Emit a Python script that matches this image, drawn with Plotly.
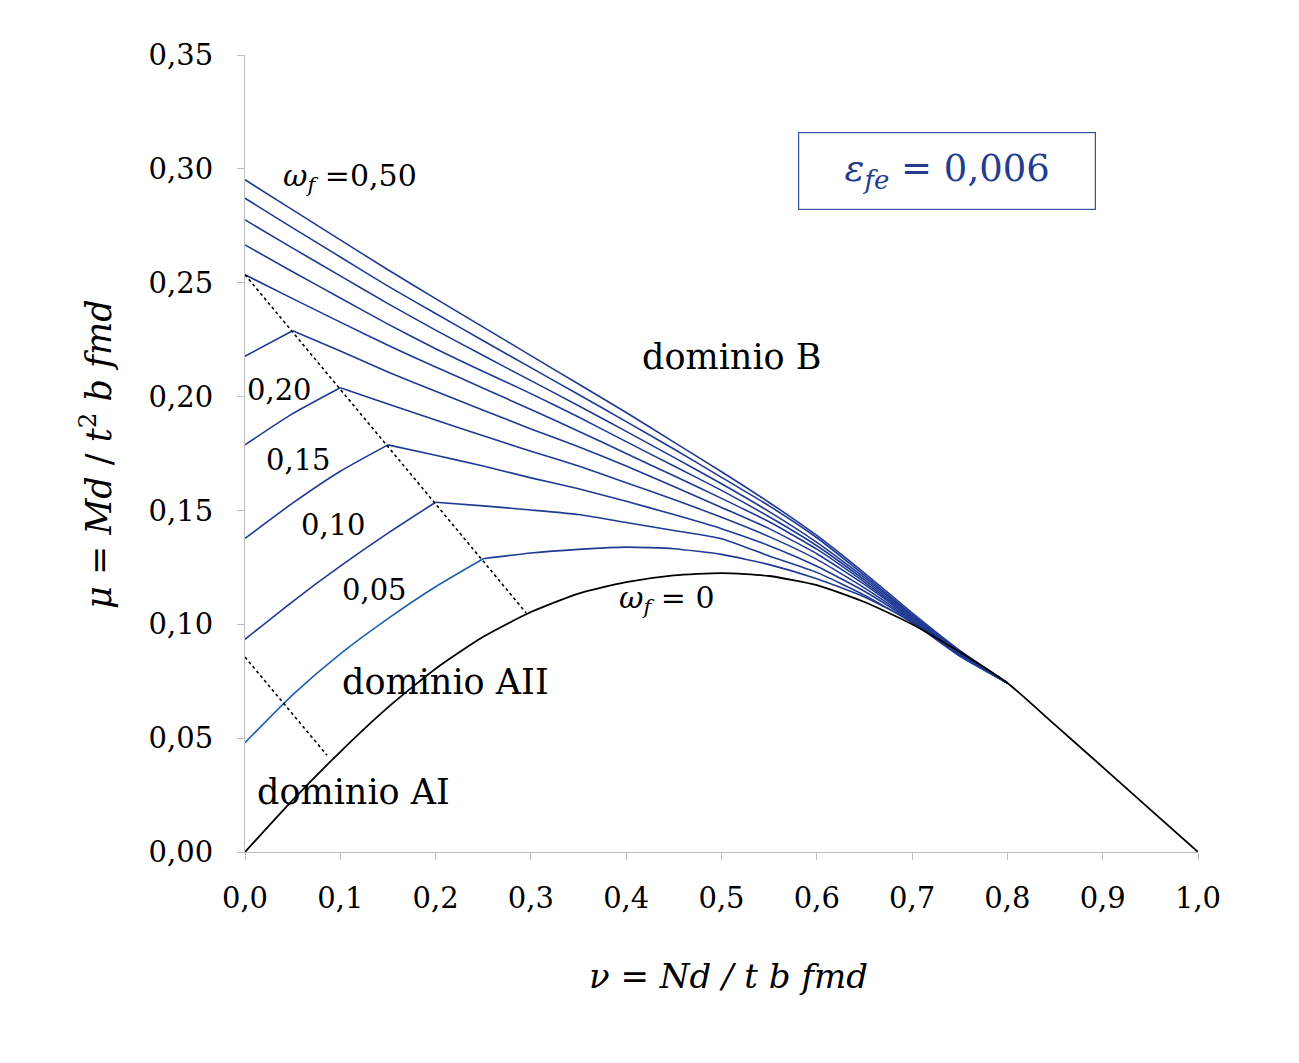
import plotly.graph_objects as go

nu = [0.00, 0.05, 0.10, 0.15, 0.20, 0.25, 0.30, 0.35, 0.40, 0.45,
      0.50, 0.55, 0.60, 0.65, 0.70, 0.75, 0.80]

mu_w050 = [0.2952, 0.2820, 0.2688, 0.2557, 0.2430, 0.2305, 0.2180, 0.2055, 0.1930, 0.1800,
           0.1670, 0.1535, 0.1390, 0.1225, 0.1050, 0.0885, 0.0742]
mu_w045 = [0.2871, 0.2741, 0.2613, 0.2485, 0.2365, 0.2245, 0.2127, 0.2009, 0.1890, 0.1770,
           0.1645, 0.1520, 0.1380, 0.1215, 0.1042, 0.0880, 0.0742]
mu_w040 = [0.2776, 0.2652, 0.2530, 0.2408, 0.2292, 0.2180, 0.2070, 0.1960, 0.1847, 0.1733,
           0.1617, 0.1495, 0.1360, 0.1205, 0.1038, 0.0875, 0.0742]
mu_w035 = [0.2666, 0.2548, 0.2433, 0.2318, 0.2210, 0.2110, 0.2013, 0.1910, 0.1802, 0.1695,
           0.1588, 0.1472, 0.1345, 0.1195, 0.1032, 0.0872, 0.0742]
mu_w030 = [0.2535, 0.2430, 0.2327, 0.2225, 0.2130, 0.2037, 0.1943, 0.1848, 0.1750, 0.1652,
           0.1553, 0.1450, 0.1330, 0.1185, 0.1027, 0.0870, 0.0742]
mu_w025 = [0.2177, 0.2289, 0.2200, 0.2108, 0.2023, 0.1940, 0.1858, 0.1780, 0.1695, 0.1605,
           0.1513, 0.1420, 0.1310, 0.1175, 0.1022, 0.0867, 0.0742]
mu_w020 = [0.1788, 0.1925, 0.2039, 0.1967, 0.1897, 0.1828, 0.1760, 0.1695, 0.1622, 0.1548,
           0.1470, 0.1385, 0.1285, 0.1160, 0.1017, 0.0865, 0.0742]
mu_w015 = [0.1377, 0.1532, 0.1672, 0.1788, 0.1742, 0.1695, 0.1643, 0.1595, 0.1540, 0.1482,
           0.1420, 0.1345, 0.1255, 0.1145, 0.1012, 0.0862, 0.0742]
mu_w010 = [0.0934, 0.1100, 0.1255, 0.1400, 0.1536, 0.1520, 0.1502, 0.1482, 0.1447, 0.1412,
           0.1376, 0.1300, 0.1228, 0.1128, 0.1007, 0.0860, 0.0742]
mu_w005 = [0.0480, 0.0690, 0.0870, 0.1025, 0.1165, 0.1288, 0.1313, 0.1329, 0.1339, 0.1332,
           0.1307, 0.1262, 0.1200, 0.1120, 0.1012, 0.0870, 0.0742]

# index in nu[] of the kink (end of rising branch) for each omega_f
kink_w050, kink_w045, kink_w040, kink_w035, kink_w030 = 0, 0, 0, 0, 0
kink_w025, kink_w020, kink_w015, kink_w010, kink_w005 = 1, 2, 3, 4, 5

# omega_f = 0
nu_w0 = [0.00, 0.05, 0.10, 0.15, 0.20, 0.25, 0.30, 0.35, 0.40, 0.45, 0.50,
         0.55, 0.60, 0.65, 0.70, 0.75, 0.80, 0.85, 0.90, 0.95, 1.00]
mu_w0 = [0.0000, 0.0228, 0.0440, 0.0635, 0.0805, 0.0945, 0.1054, 0.1135, 0.1185, 0.1215, 0.1225,
         0.1212, 0.1172, 0.1098, 0.1000, 0.0878, 0.0742, 0.0558, 0.0373, 0.0186, 0.0000]

# domain boundaries (dotted)
nu_bound_AB = [0.000, 0.295]
mu_bound_AB = [0.2535, 0.1050]
nu_bound_A = [0.000, 0.086]
mu_bound_A = [0.0856, 0.0425]

x_ticks = [0.0, 0.1, 0.2, 0.3, 0.4, 0.5, 0.6, 0.7, 0.8, 0.9, 1.0]
y_ticks = [0.00, 0.05, 0.10, 0.15, 0.20, 0.25, 0.30, 0.35]

BLUE = "#1f3a93"
BLUE_LIGHT = "#1f5fae"
FONT = "DejaVu Serif"

fig = go.Figure()

curves = [(mu_w050, kink_w050), (mu_w045, kink_w045), (mu_w040, kink_w040),
          (mu_w035, kink_w035), (mu_w030, kink_w030), (mu_w025, kink_w025),
          (mu_w020, kink_w020), (mu_w015, kink_w015), (mu_w010, kink_w010),
          (mu_w005, kink_w005)]
for i, (mu, k) in enumerate(curves):
    rise_color = BLUE_LIGHT if i == len(curves) - 1 else BLUE
    if k > 0:
        fig.add_trace(go.Scatter(x=nu[:k + 1], y=mu[:k + 1], mode="lines",
                                 line=dict(color=rise_color, width=1.6,
                                           shape="spline", smoothing=0.6),
                                 hoverinfo="skip"))
    fig.add_trace(go.Scatter(x=nu[k:], y=mu[k:], mode="lines",
                             line=dict(color=BLUE, width=1.6, shape="spline", smoothing=0.5),
                             hoverinfo="skip"))

fig.add_trace(go.Scatter(x=nu_w0, y=mu_w0, mode="lines",
                         line=dict(color="black", width=1.8, shape="spline", smoothing=0.6)))

fig.add_trace(go.Scatter(x=nu_bound_AB, y=mu_bound_AB, mode="lines",
                         line=dict(color="black", width=1.6, dash="dot")))
fig.add_trace(go.Scatter(x=nu_bound_A, y=mu_bound_A, mode="lines",
                         line=dict(color="black", width=1.6, dash="dot")))

def ann(text, x, y, size, xanchor="left", color="black"):
    fig.add_annotation(x=x, y=y, xref="x", yref="y", text=text, showarrow=False,
                       xanchor=xanchor, yanchor="middle",
                       font=dict(family=FONT, size=size, color=color))

ann("<i>ω<sub>f</sub></i> =0,50", 0.038, 0.2960, 30)
ann("0,20", 0.000, 0.2030, 29)
ann("0,15", 0.020, 0.1720, 29)
ann("0,10", 0.057, 0.1435, 29)
ann("0,05", 0.100, 0.1150, 29)
ann("<i>ω<sub>f</sub></i> = 0", 0.390, 0.1110, 30)
ann("dominio B", 0.414, 0.2172, 35)
ann("dominio AII", 0.100, 0.0745, 35)
ann("dominio AI", 0.010, 0.0265, 35)

fig.add_annotation(x=0.7366, y=0.2992, xref="x", yref="y",
                   text="<i>ε<sub>fe</sub></i> = 0,006", showarrow=False,
                   xanchor="center", yanchor="middle",
                   width=290, height=70, borderpad=3,
                   bordercolor="#3a52a3", borderwidth=1.2, bgcolor="white",
                   font=dict(family=FONT, size=37, color="#233d8e"))

# axis titles
fig.add_annotation(x=-0.157, y=0.5, xref="paper", yref="paper",
                   text="<i>μ</i> = <i>Md</i> / <i>t</i><sup>2</sup> <i>b fmd</i>",
                   showarrow=False, textangle=-90, xanchor="center", yanchor="middle",
                   font=dict(family=FONT, size=35, color="black"))
fig.add_annotation(x=0.507, y=-0.155, xref="paper", yref="paper",
                   text="<i>ν</i> = <i>Nd / t b fmd</i>",
                   showarrow=False, xanchor="center", yanchor="middle",
                   font=dict(family=FONT, size=34, color="black"))

axis_common = dict(showgrid=False, zeroline=False, showline=True, linecolor="#bfbfbf",
                   linewidth=1, ticks="outside", ticklen=7, tickcolor="#bfbfbf",
                   tickwidth=1, tickfont=dict(family=FONT, size=29, color="black"))

fig.update_xaxes(range=[0, 1.0], tickvals=x_ticks, tickformat=".1f",
                 ticklabelstandoff=13, **axis_common)
fig.update_yaxes(range=[0, 0.35], tickvals=y_ticks, tickformat=".2f",
                 ticklabelstandoff=18, **axis_common)

fig.update_layout(width=1299, height=1063, showlegend=False,
                  separators=", ",
                  plot_bgcolor="white", paper_bgcolor="white",
                  margin=dict(l=237, r=109, t=47, b=219, autoexpand=False))

fig.write_html("out.html")
